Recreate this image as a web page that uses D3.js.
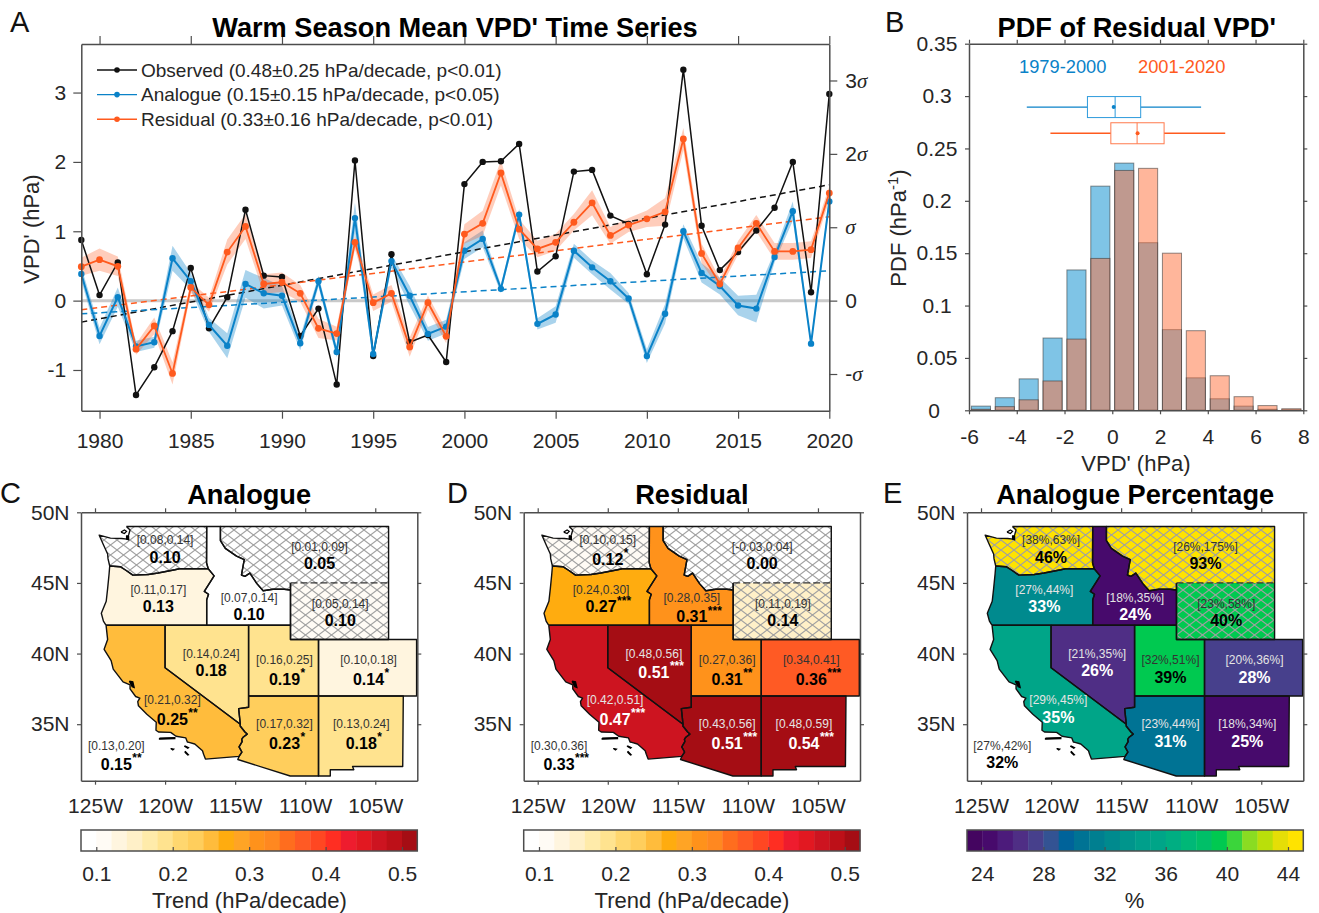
<!DOCTYPE html>
<html><head><meta charset="utf-8">
<script src="https://d3js.org/d3.v7.min.js"></script>
<style>html,body{margin:0;padding:0;background:#fff}svg{display:block}text{font-family:"Liberation Sans",Arial,sans-serif}</style>
</head><body><svg id="c" width="1319" height="913"></svg>
<script>
// ---------- Panel A data ----------
const years = d3.range(1979, 2021);
const observed = [0.875,0.08,0.55,-1.36,-0.96,-0.44,0.47,-0.40,0.05,1.31,0.36,0.34,-0.51,-0.115,-1.21,2.02,-0.80,0.67,-0.60,-0.495,-0.885,1.68,2.0,2.01,2.26,0.42,0.64,1.86,1.885,1.226,1.106,0.38,1.096,3.33,1.08,0.44,0.70,1.01,1.34,2.0,0.12,2.98];
const analogue = [0.385,-0.51,0.05,-0.66,-0.60,0.61,0.28,-0.35,-0.65,0.24,0.106,0.07,-0.615,0.28,-0.74,1.19,-0.77,0.57,0.07,-0.48,-0.375,0.72,0.89,0.17,1.24,-0.335,-0.20,0.72,0.48,0.28,0.03,-0.80,-0.19,1.0,0.40,0.21,-0.07,-0.115,0.63,1.29,-0.62,1.43];
const residual = [0.49,0.59,0.495,-0.70,-0.365,-1.05,0.19,-0.06,0.70,1.07,0.24,0.265,0.105,-0.40,-0.475,0.84,-0.03,0.105,-0.67,-0.03,-0.515,0.96,1.115,1.84,1.03,0.745,0.84,1.13,1.41,0.94,1.09,1.18,1.28,2.33,0.68,0.24,0.76,1.115,0.71,0.71,0.735,1.55];
const analogueErr = [.1,.12,.14,.08,.08,.18,.12,.1,.18,.2,.22,.14,.1,.08,.08,.22,.08,.1,.14,.1,.1,.12,.12,.06,.08,.08,.12,.1,.1,.12,.08,.1,.14,.1,.14,.12,.14,.2,.08,.14,.04,.08];
const residualErr = [.13,.16,.14,.08,.12,.16,.08,.1,.18,.18,.14,.14,.12,.14,.1,.1,.12,.12,.14,.1,.1,.14,.18,.18,.14,.12,.12,.12,.18,.12,.1,.12,.2,.16,.14,.08,.1,.12,.12,.12,.12,.1];
const trendObserved = [-0.31, 1.67];
const trendAnalogue = [-0.19, 0.43];
const trendResidual = [-0.13, 1.21];
const legendLabels = ["Observed (0.48±0.25 hPa/decade, p<0.01)","Analogue (0.15±0.15 hPa/decade, p<0.05)","Residual (0.33±0.16 hPa/decade, p<0.01)"];
const yearTicks = [1980,1985,1990,1995,2000,2005,2010,2015,2020];
const vpdTicks = [-1,0,1,2,3];
const sigmaTicks = [-1,0,1,2,3];
const sigmaPerHpa = 1.058;

// ---------- Panel B data ----------
const binCenters = [-5.5,-4.5,-3.5,-2.5,-1.5,-0.5,0.5,1.5,2.5,3.5,4.5,5.5,6.5,7.5];
const pdfEarly = [0.004,0.012,0.030,0.069,0.134,0.214,0.236,0.160,0.077,0.031,0.011,0.004,0.001,0.0005];
const pdfLate  = [0.001,0.0035,0.010,0.028,0.068,0.145,0.229,0.231,0.150,0.076,0.033,0.013,0.0045,0.0015];
const boxEarly = {lo:-3.58, q1:-1.04, med:0.12, mean:0.06, q3:1.19, hi:3.72, y:0.2895};
const boxLate  = {lo:-2.59, q1:-0.06, med:1.04, mean:1.06, q3:2.17, hi:4.73, y:0.2645};
const pdfXTicks = [-6,-4,-2,0,2,4,6,8];
const pdfYTicks = [0,0.05,0.1,0.15,0.2,0.25,0.3,0.35];

// ---------- Map data ----------
const regionNames = ["WA","OR","ID","MT","WY","NV","UT","CO","CA","AZ","NM","All"];
const outlineWA = [[-122.76,49],[-117.03,49],[-117.04,46.42],[-116.92,46],[-118.98,46],[-119.3,45.93],[-120.5,45.7],[-121.2,45.6],[-122.3,45.55],[-122.8,45.9],[-123.2,46.15],[-123.95,46.2],[-124.07,46.7],[-124.1,47.05],[-124.4,47.7],[-124.7,48.38],[-123.9,48.17],[-123.1,48.15],[-122.7,48.1],[-122.6,48.4],[-122.5,48.75],[-122.76,49]];
const outlineOR = [[-124.21,42],[-117.03,42],[-117.03,43.8],[-116.9,44.2],[-117.2,44.4],[-116.5,45.5],[-116.92,46],[-118.98,46],[-119.3,45.93],[-120.5,45.7],[-121.2,45.6],[-122.3,45.55],[-122.8,45.9],[-123.2,46.15],[-123.95,46.2],[-124,45.6],[-124.1,44.6],[-124.2,43.7],[-124.55,42.85],[-124.4,42.3],[-124.21,42]];
const outlineID = [[-117.03,49],[-116.05,49],[-116.05,48],[-115.7,47.45],[-114.9,46.9],[-114.35,46.65],[-114.55,45.56],[-114.3,45.47],[-113.95,45.7],[-113.45,44.95],[-113,44.45],[-112.3,44.55],[-111.5,44.55],[-111.05,44.5],[-111.05,42],[-117.03,42],[-117.03,43.8],[-116.9,44.2],[-117.2,44.4],[-116.5,45.5],[-116.92,46],[-117.04,46.42],[-117.03,49]];
const outlineMT = [[-104.05,45],[-104.05,49],[-116.05,49],[-116.05,48],[-115.7,47.45],[-114.9,46.9],[-114.35,46.65],[-114.55,45.56],[-114.3,45.47],[-113.95,45.7],[-113.45,44.95],[-113,44.45],[-112.3,44.55],[-111.5,44.55],[-111.05,44.5],[-111.05,45]];
const outlineWY = [[-111.05,45],[-111.05,41],[-104.05,41],[-104.05,45]];
const outlineNV = [[-120,42],[-114.04,42],[-114.04,36.2],[-114.75,36.1],[-114.63,35],[-120,39],[-120,42]];
const outlineUT = [[-114.04,42],[-111.05,42],[-111.05,41],[-109.05,41],[-109.05,37],[-114.04,37],[-114.04,42]];
const outlineCO = [[-109.05,41],[-102.05,41],[-102.05,37],[-109.05,37],[-109.05,41]];
const outlineCA = [[-124.21,42],[-120,42],[-120,39],[-114.63,35],[-114.64,34.87],[-114.3,34.45],[-114.14,34.3],[-114.43,34.08],[-114.53,33.93],[-114.5,33.76],[-114.72,33.4],[-114.52,33.03],[-114.72,32.72],[-117.12,32.53],[-117.25,32.87],[-117.33,33.12],[-117.88,33.6],[-118.29,33.71],[-118.41,33.74],[-118.52,34.03],[-119.22,34.15],[-119.6,34.42],[-120.47,34.45],[-120.65,34.57],[-120.63,35.14],[-121.3,35.7],[-121.9,36.3],[-121.95,36.6],[-121.8,36.85],[-122.1,36.96],[-122.5,37.5],[-122.5,37.78],[-123,38],[-123.7,38.9],[-123.85,39.5],[-124.35,40.3],[-124.1,41],[-124.21,42]];
const outlineAZ = [[-114.04,37],[-109.05,37],[-109.05,31.33],[-111.07,31.33],[-114.81,32.5],[-114.72,32.72],[-114.52,33.03],[-114.72,33.4],[-114.5,33.76],[-114.53,33.93],[-114.43,34.08],[-114.14,34.3],[-114.3,34.45],[-114.64,34.87],[-114.63,35],[-114.75,36.1],[-114.04,36.2],[-114.04,37]];
const outlineNM = [[-109.05,37],[-103,37],[-103.04,32],[-106.62,32],[-106.53,31.78],[-108.21,31.78],[-108.21,31.33],[-109.05,31.33],[-109.05,37]];
const outlines = [outlineWA,outlineOR,outlineID,outlineMT,outlineWY,outlineNV,outlineUT,outlineCO,outlineCA,outlineAZ,outlineNM];
const hatched = ["WA","MT","WY"];
const dashedEdge = [[-111.05,45],[-104.05,45]];
const islandRings = [
  [[-123.15,48.6],[-122.9,48.75],[-122.75,48.65],[-122.9,48.5],[-123.15,48.6]],
  [[-122.75,48.35],[-122.6,48.3],[-122.6,48.05],[-122.75,48.1],[-122.75,48.35]],
  [[-122.55,38.05],[-122.3,38.0],[-122.2,37.6],[-122.35,37.65],[-122.45,37.85],[-122.55,38.05]],
  [[-120.4,34.02],[-119.3,34.05],[-119.3,33.97],[-120.4,33.94],[-120.4,34.02]],
  [[-119.6,33.28],[-119.38,33.24],[-119.45,33.18],[-119.6,33.28]],
  [[-118.6,33.48],[-118.32,33.34],[-118.38,33.29],[-118.6,33.42],[-118.6,33.48]],
  [[-118.6,33.03],[-118.38,32.82],[-118.33,32.84],[-118.55,33.06],[-118.6,33.03]]
];
const anchorLon = [-120.0,-120.48,-114.0,-108.98,-107.5,-116.71,-111.48,-105.48,-119.48,-111.48,-106.0,-123.48];
const anchorLat = [48.04,44.55,43.96,47.57,43.54,40.02,39.55,39.55,36.72,35.02,35.02,33.51];
const valueGapC = [17,17,17,17,17,17,19,19,19,19,19,19];
const valueGapD = [19,17.5,19,17,17,19,19,19,19,19,19,19];
const valueGapE = [17,17.5,17,17,17,17.5,17.5,17.5,17.5,17.5,17.5,17.5];

const trendC = [0.098,0.13,0.098,0.05,0.10,0.18,0.19,0.137,0.25,0.23,0.18,0.15];
const rangeC = ["[0.08,0.14]","[0.11,0.17]","[0.07,0.14]","[0.01,0.09]","[0.05,0.14]","[0.14,0.24]","[0.16,0.25]","[0.10,0.18]","[0.21,0.32]","[0.17,0.32]","[0.13,0.24]","[0.13,0.20]"];
const starsC = ["","","","","","","*","*","**","*","*","**"];
const trendD = [0.118,0.27,0.31,0.00,0.14,0.51,0.31,0.36,0.47,0.51,0.54,0.33];
const rangeD = ["[0.10,0.15]","[0.24,0.30]","[0.28,0.35]","[-0.03,0.04]","[0.11,0.19]","[0.48,0.56]","[0.27,0.36]","[0.34,0.41]","[0.42,0.51]","[0.43,0.56]","[0.48,0.59]","[0.30,0.36]"];
const starsD = ["*","***","***","","","***","**","***","***","***","***","***"];
const percentE = [46,32.6,24,93,39.6,26,39,27.6,35,30.6,24.6,32];
const rangeE = ["[38%,63%]","[27%,44%]","[18%,35%]","[26%,175%]","[23%,58%]","[21%,35%]","[32%,51%]","[20%,36%]","[29%,45%]","[23%,44%]","[18%,34%]","[27%,42%]"];
const starsE = ["","","","","","","","","","","",""];

const heatColors = ["#FFFFFF","#FFFBF5","#FFF5DF","#FFF0C8","#FFEBAA","#FFE38F","#FFD76F","#FFCE5C","#FFBC3C","#FFAC0F","#FFA425","#FF921B","#FF8820","#FF6D1E","#FF5A24","#FF4722","#FF2E22","#EE1C2E","#E21821","#CD1420","#BD1018","#A50D14"];
const pctColors = ["#440560","#470A6C","#4C1B7B","#4F2E85","#47408C","#335393","#00639A","#007394","#007F90","#008A8E","#00958C","#009F8B","#00A588","#00AE82","#00B877","#00BF68","#00C950","#3BD53B","#8ADC22","#BADF0A","#E5DE07","#FFE300"];
const trendBarTicks = [0.1,0.2,0.3,0.4,0.5];
const pctBarTicks = [24,28,32,36,40,44];
const lonTicks = [-125,-120,-115,-110,-105];
const latTicks = [35,40,45,50];

// ---------- Drawing ----------
const svg = d3.select("#c");
const axisColor = "#4d4d4d";
const blue = "#0A82C8", orange = "#FF5A1E";
const tickFont = 21, labelFont = 22, titleFont = 27.2;
const defs = svg.append("defs");
const pat = defs.append("pattern").attr("id","hatch").attr("patternUnits","userSpaceOnUse").attr("width",13).attr("height",10);
pat.append("path").attr("d","M0,0L13,10M0,10L13,0").attr("stroke","#a0a0a0").attr("stroke-width",1.1).attr("fill","none");

function style(g, size){
  g.selectAll("path.domain").attr("stroke",axisColor).attr("stroke-width",1.5);
  g.selectAll(".tick line").attr("stroke",axisColor).attr("stroke-width",1.2);
  g.selectAll("text").attr("font-size",size||tickFont).attr("font-family",'"Liberation Sans",Arial,sans-serif').attr("fill","#262626");
  return g;
}
function put(x,y){ return svg.append("g").attr("transform",`translate(${x},${y})`); }
function txt(x,y,s,size,opts){
  opts=opts||{};
  return svg.append("text").attr("x",x).attr("y",y).text(s).attr("font-size",size)
    .attr("text-anchor",opts.anchor||"middle").attr("font-weight",opts.bold?"bold":"normal").attr("fill",opts.fill||"#262626");
}
const plain = d=>String(d);
// panel letters
[["A",10,32],["B",885,32],["C",0,503],["D",447,503],["E",883,503]].forEach(d=>txt(d[1],d[2],d[0],29,{anchor:"start",fill:"#111"}));

// ---- Panel A
(function(){
  const L=81.3,R=829.3,T=44,B=410.7;
  const x=d3.scaleLinear().domain([1979,2020]).range([L,R]);
  const y=d3.scaleLinear().domain([-1.587,3.70]).range([B,T]);
  const ys=d3.scaleLinear().domain([-1.587/sigmaPerHpa,3.70/sigmaPerHpa]).range([B,T]);
  const g=svg.append("g");
  g.append("line").attr("x1",x(1979)).attr("x2",x(2020)).attr("y1",y(0)).attr("y2",y(0)).attr("stroke","#c9c9c9").attr("stroke-width",3);
  const band=(vals,errs)=>d3.area().x((d,i)=>x(years[i])).y0((d,i)=>y(vals[i]-errs[i])).y1((d,i)=>y(vals[i]+errs[i]))(years);
  g.append("path").attr("d",band(analogue,analogueErr)).attr("fill",blue).attr("fill-opacity",.35);
  g.append("path").attr("d",band(residual,residualErr)).attr("fill",orange).attr("fill-opacity",.3);
  const series=[[observed,"#111",1.5,3.2,trendObserved],[analogue,blue,2,3.2,trendAnalogue],[residual,orange,1.8,3.4,trendResidual]];
  series.forEach(s=>{
    g.append("line").attr("x1",x(1979)).attr("x2",x(2020)).attr("y1",y(s[4][0])).attr("y2",y(s[4][1]))
      .attr("stroke",s[1]).attr("stroke-width",1.5).attr("stroke-dasharray","6,4");
  });
  series.forEach(s=>{
    const line=d3.line().x((d,i)=>x(years[i])).y(d=>y(d));
    g.append("path").attr("d",line(s[0])).attr("fill","none").attr("stroke",s[1]).attr("stroke-width",s[2]);
    g.selectAll(null).data(s[0]).enter().append("circle").attr("cx",(d,i)=>x(years[i])).attr("cy",d=>y(d)).attr("r",s[3]).attr("fill",s[1]);
  });
  style(put(0,B).call(d3.axisBottom(x).tickValues(yearTicks).tickFormat(plain).tickSizeInner(8).tickSizeOuter(0).tickPadding(14)));
  style(put(0,T).call(d3.axisTop(x).tickValues(yearTicks).tickFormat("").tickSizeInner(8).tickSizeOuter(0)));
  style(put(L,0).call(d3.axisLeft(y).tickValues(vpdTicks).tickFormat(plain).tickSizeInner(8).tickSizeOuter(0).tickPadding(7)));
  const right=style(put(R,0).call(d3.axisRight(ys).tickValues(sigmaTicks).tickSizeInner(8).tickSizeOuter(0).tickPadding(8)));
  right.selectAll(".tick text").each(function(d){
    const t=d3.select(this); t.text(null);
    const pre=d===0?"0":d===1?"":d===-1?"-":String(d);
    if(pre) t.append("tspan").text(pre);
    if(d!==0) t.append("tspan").text("σ").attr("font-family",'"Liberation Serif",serif').attr("font-style","italic");
  });
  legendLabels.forEach((s,i)=>{
    const yy=70+i*24.6, c=series[i][1];
    svg.append("line").attr("x1",97).attr("x2",137).attr("y1",yy).attr("y2",yy).attr("stroke",c).attr("stroke-width",1.4);
    svg.append("circle").attr("cx",117).attr("cy",yy).attr("r",2.8).attr("fill",c);
    txt(141,yy+6.5,s,19,{anchor:"start"});
  });
  txt(455,37,"Warm Season Mean VPD' Time Series",titleFont,{bold:true,fill:"#000"});
  svg.append("text").attr("transform",`translate(39,229) rotate(-90)`).attr("text-anchor","middle").attr("font-size",labelFont).attr("fill","#262626").text("VPD' (hPa)");
})();

// ---- Panel B
(function(){
  const L=969,R=1303.3,T=43.7,B=410.3;
  const x=d3.scaleLinear().domain([-6,8]).range([L,R]);
  const y=d3.scaleLinear().domain([0,0.35]).range([B,T]);
  const bars=(vals,fill,op)=>svg.append("g").selectAll("rect").data(vals).enter().append("rect")
    .attr("x",(d,i)=>x(binCenters[i]-.4)).attr("width",x(.8)-x(0))
    .attr("y",d=>y(d)).attr("height",d=>y(0)-y(d))
    .attr("fill",fill).attr("fill-opacity",op).attr("stroke","#333").attr("stroke-opacity",.55).attr("stroke-width",1);
  bars(pdfEarly,"#0089CD",.5);
  bars(pdfLate,"#FF6D37",.5);
  [[boxEarly,blue,"#2E9BDC"],[boxLate,orange,"#FF7A4D"]].forEach(b=>{
    const d=b[0],g=svg.append("g"),yy=y(d.y),h=10.5;
    g.append("line").attr("x1",x(d.lo)).attr("x2",x(d.q1)).attr("y1",yy).attr("y2",yy).attr("stroke",b[1]).attr("stroke-width",1.3);
    g.append("line").attr("x1",x(d.q3)).attr("x2",x(d.hi)).attr("y1",yy).attr("y2",yy).attr("stroke",b[1]).attr("stroke-width",1.3);
    g.append("rect").attr("x",x(d.q1)).attr("width",x(d.q3)-x(d.q1)).attr("y",yy-h).attr("height",2*h).attr("fill","none").attr("stroke",b[2]).attr("stroke-width",1);
    g.append("line").attr("x1",x(d.med)).attr("x2",x(d.med)).attr("y1",yy-h).attr("y2",yy+h).attr("stroke",b[2]).attr("stroke-width",1);
    g.append("circle").attr("cx",x(d.mean)).attr("cy",yy).attr("r",2).attr("fill",b[1]);
  });
  txt(1062.7,73,"1979-2000",18.3,{fill:blue});
  txt(1181.7,73,"2001-2020",18.3,{fill:orange});
  style(put(0,B).call(d3.axisBottom(x).tickValues(pdfXTicks).tickSizeInner(4).tickSizeOuter(0).tickPadding(14.5).tickFormat(plain)));
  style(put(0,T).call(d3.axisTop(x).tickValues(pdfXTicks).tickFormat("").tickSizeInner(4).tickSizeOuter(0)));
  const l=style(put(L,0).call(d3.axisLeft(y).tickValues(pdfYTicks).tickSizeInner(4).tickSizeOuter(0).tickFormat(plain)));
  l.selectAll(".tick text").attr("text-anchor","middle").attr("x",d=>d===0?-35:-32);
  style(put(R,0).call(d3.axisRight(y).tickValues(pdfYTicks).tickFormat("").tickSizeInner(4).tickSizeOuter(0)));
  txt(1136.7,37,"PDF of Residual VPD'",titleFont,{bold:true,fill:"#000"});
  txt(1136,471,"VPD' (hPa)",labelFont);
  const t=svg.append("text").attr("transform","translate(906,228) rotate(-90)").attr("text-anchor","middle").attr("font-size",labelFont).attr("fill","#262626");
  t.append("tspan").text("PDF (hPa");
  t.append("tspan").text("-1").attr("font-size",15).attr("dy",-8);
  t.append("tspan").text(")").attr("dy",8);
})();

// ---- Maps
function drawMap(cfg){
  const L=cfg.left,R=cfg.left+336.3,T=512.3,B=780.7;
  const x=d3.scaleLinear().domain([-126,-102]).range([L,R]);
  const y=d3.scaleLinear().domain([31,50]).range([B,T]);
  const bar=d3.scaleLinear().domain(cfg.barDomain).range([L,R]);
  const n=cfg.colors.length;
  const color=d3.scaleQuantize().domain(cfg.barDomain).range(cfg.colors);
  const line=d3.line().x(d=>x(d[0])).y(d=>y(d[1]));
  const g=svg.append("g");
  outlines.forEach((o,i)=>{
    g.append("path").attr("d",line(o)).attr("fill",color(cfg.values[i]));
  });
  outlines.forEach((o,i)=>{
    if(hatched.includes(regionNames[i])) g.append("path").attr("d",line(o)).attr("fill","url(#hatch)");
  });
  outlines.forEach((o,i)=>{
    g.append("path").attr("d",line(o)).attr("fill","none").attr("stroke","#111").attr("stroke-width",1.4).attr("stroke-linejoin","round");
  });
  g.append("path").attr("d",line(dashedEdge)).attr("fill","none").attr("stroke","#333").attr("stroke-width",1.3).attr("stroke-dasharray","7,3");
  islandRings.forEach((r,i)=>{
    g.append("path").attr("d",line(r)).attr("fill",i===0?"#fff":"#000").attr("stroke","#000").attr("stroke-width",1.2);
  });
  style(put(0,B).call(d3.axisBottom(x).tickValues(lonTicks).tickSizeInner(4).tickSizeOuter(0).tickPadding(13).tickFormat(d=>(-d)+"W")));
  style(put(0,T).call(d3.axisTop(x).tickValues(lonTicks).tickFormat("").tickSizeInner(4).tickSizeOuter(0)));
  style(put(L,0).call(d3.axisLeft(y).tickValues(latTicks).tickSizeInner(4).tickSizeOuter(0).tickPadding(7.5).tickFormat(d=>d+"N")));
  style(put(R,0).call(d3.axisRight(y).tickValues(latTicks).tickFormat("").tickSizeInner(4).tickSizeOuter(0)));
  regionNames.forEach((r,i)=>{
    const isFilled=i<outlines.length;
    const c=isFilled?color(cfg.values[i]):"#fff";
    const light=!hatched.includes(r)&&d3.lab(c).l<cfg.lightBelow;
    const ax=x(anchorLon[i]),ay=y(anchorLat[i]);
    txt(ax,ay+4.3,cfg.ranges[i],12,{fill:light?"#e4e4e4":"#333"});
    const vy=ay+cfg.gaps[i]+5.7;
    txt(ax,vy,cfg.format(cfg.values[i]),16,{bold:true,fill:light?"#fff":"#000"});
    if(cfg.stars[i]) txt(ax+16,vy-7.5,cfg.stars[i],12,{anchor:"start",bold:true,fill:light?"#fff":"#000"});
  });
  txt((L+R)/2,504,cfg.title,titleFont,{bold:true,fill:"#000"});
  // colour bar
  const step=(cfg.barDomain[1]-cfg.barDomain[0])/n;
  svg.append("g").selectAll("rect").data(cfg.colors).enter().append("rect")
    .attr("x",(d,i)=>bar(cfg.barDomain[0]+i*step)).attr("width",bar(step)-bar(0)+.4).attr("y",830).attr("height",21).attr("fill",d=>d);
  svg.append("rect").attr("x",L).attr("y",830).attr("width",R-L).attr("height",21).attr("fill","none").attr("stroke",axisColor).attr("stroke-width",1.5);
  const ax=style(put(0,851).call(d3.axisBottom(bar).tickValues(cfg.barTicks).tickSizeInner(-4).tickSizeOuter(0).tickPadding(15).tickFormat(cfg.tickFormat)));
  ax.select("path.domain").remove();
  txt(cfg.labelX,908,cfg.label,labelFont);
}
const fmt2=d=>d.toFixed(2);
drawMap({left:81,title:"Analogue",values:trendC,ranges:rangeC,stars:starsC,gaps:valueGapC,format:fmt2,colors:heatColors,barDomain:[0.08,0.52],barTicks:trendBarTicks,tickFormat:d3.format(".1f"),label:"Trend (hPa/decade)",labelX:249.5,lightBelow:0});
drawMap({left:523.7,title:"Residual",values:trendD,ranges:rangeD,stars:starsD,gaps:valueGapD,format:fmt2,colors:heatColors,barDomain:[0.08,0.52],barTicks:trendBarTicks,tickFormat:d3.format(".1f"),label:"Trend (hPa/decade)",labelX:692,lightBelow:55});
drawMap({left:967,title:"Analogue Percentage",values:percentE,ranges:rangeE,stars:starsE,gaps:valueGapE,format:d=>Math.round(d)+"%",colors:pctColors,barDomain:[23,45],barTicks:pctBarTicks,tickFormat:d3.format("d"),label:"%",labelX:1134.5,lightBelow:65});
</script></body></html>
